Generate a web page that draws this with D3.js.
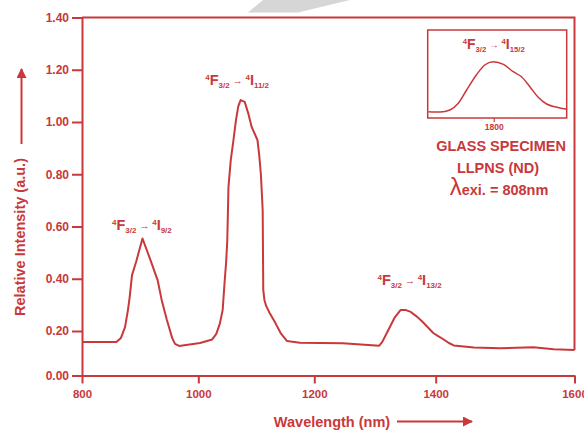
<!DOCTYPE html>
<html>
<head>
<meta charset="utf-8">
<script src="https://cdnjs.cloudflare.com/ajax/libs/d3/7.8.5/d3.min.js"></script>
<style>
    html, body { margin: 0; padding: 0; background: #fff; }
    svg { display: block; font-family: "Liberation Sans", Arial, sans-serif; font-weight: bold; }
</style>
</head>
<body>
<div id="chart"></div>
<script>
// emission spectrum
var wavelength = [800, 859, 867, 874, 879, 882, 886, 893, 904, 917, 930, 937, 946, 955, 960, 967,
    1003, 1024, 1031, 1037, 1042, 1045, 1048, 1050, 1052, 1056, 1060, 1065, 1069, 1073, 1080,
    1086, 1092, 1102, 1105, 1108, 1111, 1112, 1114, 1117, 1123, 1132, 1142, 1153, 1175, 1247,
    1307, 1312, 1322, 1332, 1342, 1351, 1359, 1369, 1377, 1385, 1396, 1403, 1411, 1419, 1426,
    1455, 1493, 1541, 1570, 1600];
var intensity = [0.151, 0.151, 0.169, 0.215, 0.280, 0.330, 0.414, 0.464, 0.554, 0.476, 0.395, 0.319, 0.242, 0.169, 0.142, 0.133,
    0.146, 0.162, 0.187, 0.227, 0.280, 0.376, 0.464, 0.548, 0.751, 0.855, 0.920, 1.008, 1.061, 1.084, 1.077,
    1.034, 0.981, 0.931, 0.874, 0.797, 0.663, 0.357, 0.319, 0.296, 0.269, 0.234, 0.191, 0.155, 0.147, 0.145,
    0.134, 0.151, 0.204, 0.250, 0.280, 0.280, 0.273, 0.255, 0.238, 0.219, 0.191, 0.178, 0.163, 0.146, 0.135,
    0.126, 0.122, 0.127, 0.118, 0.115];

// inset: 4F3/2 -> 4I15/2 band
var insetWavelength = [1706, 1723, 1737, 1749, 1761, 1775, 1787, 1799, 1814, 1828, 1840, 1852, 1864, 1876, 1891, 1905];
var insetIntensity = [0.072, 0.068, 0.091, 0.167, 0.318, 0.489, 0.602, 0.640, 0.610, 0.526, 0.469, 0.356, 0.235, 0.159, 0.122, 0.099];

var xTicks = [800, 1000, 1200, 1400, 1600];
var yTicks = [0, 0.2, 0.4, 0.6, 0.8, 1.0, 1.2, 1.4];
var insetTicks = [1800];

var transitions = [
    {lower: "9/2", wl: 903, level: 0.587},
    {lower: "11/2", wl: 1067, level: 1.142},
    {lower: "13/2", wl: 1357, level: 0.376}
];

var RED = "#c9383a";

var svg = d3.select("#chart")
    .append("svg")
    .attr("width", 584)
    .attr("height", 433);

// faint watermark strip at the top of the scan
svg.append("polygon")
    .attr("points", "263,0 350,0 298,12.5 248,12.5")
    .attr("fill", "#d6d6d6");

// the original axes are not quite linear, so the scales are piecewise
var x = d3.scaleLinear()
    .domain(xTicks)
    .range([82, 198.3, 314.3, 435.7, 574.5]);

var y = d3.scaleLinear()
    .domain([0, 0.2, 1.4])
    .range([375.5, 331, 17.5]);

var xAxis = svg.append("g")
    .attr("transform", "translate(0," + y(0) + ")")
    .call(d3.axisBottom(x).tickValues(xTicks).tickSize(8).tickSizeOuter(0).tickPadding(6).tickFormat(d3.format("d")));

var yAxis = svg.append("g")
    .attr("transform", "translate(" + x(800) + ",0)")
    .call(d3.axisLeft(y).tickValues(yTicks).tickSize(10).tickSizeOuter(0).tickPadding(3).tickFormat(d3.format(".2f")));

function styleAxis(g, size) {
    g.selectAll("path, line").attr("stroke", RED).attr("stroke-width", 2);
    g.selectAll("text")
        .attr("fill", RED)
        .attr("font-size", size)
        .attr("font-family", "Liberation Sans, Arial, sans-serif")
        .attr("font-weight", "bold");
}
styleAxis(xAxis, 11.5);
styleAxis(yAxis, 12);

// top and right border of the frame
svg.append("path")
    .attr("d", "M" + x(800) + "," + y(1.4) + "H" + x(1600) + "V" + y(intensity[intensity.length - 1]))
    .attr("fill", "none")
    .attr("stroke", RED)
    .attr("stroke-width", 2);

var line = d3.line()
    .x(function(d, i) { return x(wavelength[i]); })
    .y(function(d) { return y(d); });

svg.append("path")
    .datum(intensity)
    .attr("class", "spectrum")
    .attr("d", line)
    .attr("fill", "none")
    .attr("stroke", RED)
    .attr("stroke-width", 2)
    .attr("stroke-linejoin", "round");

function transitionLabel(g, cx, baseline, lower, size) {
    var small = size * 0.55;
    var t = g.append("text")
        .attr("x", cx)
        .attr("y", baseline)
        .attr("text-anchor", "middle")
        .attr("fill", RED)
        .attr("font-weight", "bold");
    t.append("tspan").attr("font-size", small).attr("dy", -size * 0.36).text("4");
    t.append("tspan").attr("font-size", size).attr("dy", size * 0.36).text("F");
    t.append("tspan").attr("font-size", small).attr("dy", size * 0.22).text("3/2");
    t.append("tspan").attr("font-size", size * 0.7).attr("dy", -size * 0.3).text(" \u2192 ");
    t.append("tspan").attr("font-size", small).attr("dy", -size * 0.28).text("4");
    t.append("tspan").attr("font-size", size).attr("dy", size * 0.36).text("I");
    t.append("tspan").attr("font-size", small).attr("dy", size * 0.22).text(lower);
    return t;
}

transitions.forEach(function(d) {
    transitionLabel(svg, x(d.wl), y(d.level), d.lower, 14.5);
});

// axis titles with their arrows
svg.append("text")
    .attr("transform", "translate(25,237) rotate(-90)")
    .attr("text-anchor", "middle")
    .attr("font-size", 14.5)
    .attr("fill", RED)
    .text("Relative Intensity (a.u.)");

svg.append("text")
    .attr("x", 332)
    .attr("y", 427)
    .attr("text-anchor", "middle")
    .attr("font-size", 14.5)
    .attr("fill", RED)
    .text("Wavelength (nm)");

var defs = svg.append("defs");
defs.append("marker")
    .attr("id", "head")
    .attr("viewBox", "0 0 10 10")
    .attr("refX", 9)
    .attr("refY", 5)
    .attr("markerWidth", 5)
    .attr("markerHeight", 5)
    .attr("orient", "auto")
    .append("path")
    .attr("d", "M0,0L10,5L0,10Z")
    .attr("fill", RED);

svg.append("line")
    .attr("x1", 21.5).attr("y1", 144)
    .attr("x2", 21.5).attr("y2", 69)
    .attr("stroke", RED)
    .attr("stroke-width", 2)
    .attr("marker-end", "url(#head)");

svg.append("line")
    .attr("x1", 397).attr("y1", 421.5)
    .attr("x2", 472).attr("y2", 421.5)
    .attr("stroke", RED)
    .attr("stroke-width", 2)
    .attr("marker-end", "url(#head)");

// inset
var ix = d3.scaleLinear()
    .domain([1705, 1905])
    .range([427.7, 566.7]);

var iy = d3.scaleLinear()
    .domain([0, 1])
    .range([118, 30]);

var inset = svg.append("g").attr("class", "inset");

inset.append("rect")
    .attr("x", ix(1705))
    .attr("y", iy(1))
    .attr("width", ix(1905) - ix(1705))
    .attr("height", iy(0) - iy(1))
    .attr("fill", "#fff")
    .attr("stroke", RED)
    .attr("stroke-width", 1.5);

var insetAxis = inset.append("g")
    .attr("transform", "translate(0," + iy(0) + ")")
    .call(d3.axisBottom(ix).tickValues(insetTicks).tickSize(4).tickSizeOuter(0).tickPadding(2).tickFormat(d3.format("d")));
insetAxis.select(".domain").remove();
insetAxis.selectAll("line").attr("stroke", RED).attr("stroke-width", 1.2);
insetAxis.selectAll("text")
    .attr("fill", RED)
    .attr("font-size", 8.5)
    .attr("font-family", "Liberation Sans, Arial, sans-serif")
    .attr("font-weight", "bold");

var insetLine = d3.line()
    .x(function(d, i) { return ix(insetWavelength[i]); })
    .y(function(d) { return iy(d); })
    .curve(d3.curveMonotoneX);

inset.append("path")
    .datum(insetIntensity)
    .attr("d", insetLine)
    .attr("fill", "none")
    .attr("stroke", RED)
    .attr("stroke-width", 1.5);

transitionLabel(inset, ix(1800), iy(0.78), "15/2", 14);

var notes = inset.append("g")
    .attr("fill", RED)
    .attr("text-anchor", "middle");

notes.append("text")
    .attr("x", 501)
    .attr("y", 151)
    .attr("font-size", 14.5)
    .text("GLASS SPECIMEN");

notes.append("text")
    .attr("x", 498)
    .attr("y", 173)
    .attr("font-size", 14.5)
    .text("LLPNS (ND)");

var lambda = notes.append("text")
    .attr("x", 499)
    .attr("y", 195)
    .attr("font-size", 14.5);
lambda.append("tspan").attr("font-size", 24).attr("font-weight", "normal").text("\u03bb");
lambda.append("tspan").text("exi. = 808nm");
</script>
</body>
</html>
